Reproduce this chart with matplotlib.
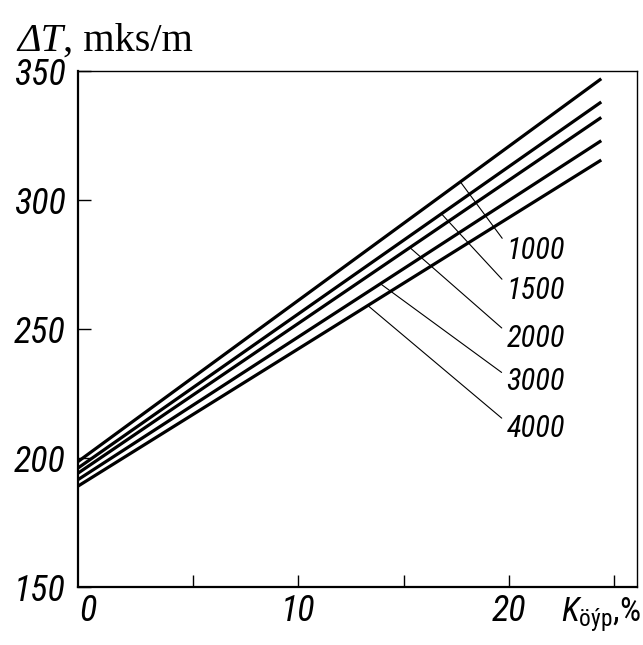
"""Travel time difference vs. clay content for several depths (scanned figure redraw)."""

import matplotlib
matplotlib.use("Agg")
import matplotlib.pyplot as plt
from matplotlib import font_manager

# data
x_ends = [-0.5, 24.4]
depths = ["1000", "1500", "2000", "3000", "4000"]
dt_start = [198.5, 196.0, 194.0, 191.5, 189.0]
dt_end = [347.0, 338.0, 332.0, 323.0, 315.5]

# where each leader touches its line (x) and where the label sits
leader_x = [17.7, 16.8, 15.3, 13.9, 13.3]
label_x = [19.9, 19.9, 19.9, 19.9, 19.9]
label_y = [280.6, 265.1, 246.5, 229.5, 211.6]

xticks = [0, 5, 10, 15, 20, 25]
xtick_labels = ["0", "", "10", "", "20", ""]
yticks = [150, 200, 250, 300, 350]


def pick_font(candidates):
    names = {f.name for f in font_manager.fontManager.ttflist}
    for c in candidates:
        if c in names:
            return c
    return "DejaVu Sans"


NARROW = pick_font(["Liberation Sans Narrow", "Roboto Condensed",
                    "DejaVu Sans Condensed", "Roboto"])
SERIF = ["Liberation Serif", "DejaVu Serif"]

plt.rcParams["mathtext.fontset"] = "custom"
plt.rcParams["mathtext.it"] = NARROW + ":italic"
plt.rcParams["mathtext.rm"] = NARROW


def main():
    fig = plt.figure(figsize=(6.43, 6.45), dpi=100)
    ax = fig.add_axes([0.1213, 0.0899, 0.8694, 0.80])

    for y0, y1 in zip(dt_start, dt_end):
        ax.plot(x_ends, [y0, y1], color="black", linewidth=2.3,
                solid_capstyle="butt")

    for name, y0, y1, lx, tx, ty in zip(depths, dt_start, dt_end,
                                        leader_x, label_x, label_y):
        # point on the line where the leader starts
        frac = (lx - x_ends[0]) / (x_ends[1] - x_ends[0])
        ly = y0 + frac * (y1 - y0)
        ax.annotate(
            name,
            xy=(lx, ly),
            xytext=(tx, ty),
            fontsize=22,
            family=[NARROW, "DejaVu Sans"],
            style="italic",
            va="center",
            ha="left",
            arrowprops=dict(arrowstyle="-", color="black", linewidth=0.8,
                            shrinkA=2, shrinkB=0, relpos=(0.0, 0.7)),
        )

    ax.set_xlim(-0.48, 26.1)
    ax.set_ylim(150, 350)
    ax.set_xticks(xticks)
    ax.set_xticklabels(xtick_labels)
    ax.set_yticks(yticks)
    ax.xaxis.get_major_ticks()[0].tick1line.set_visible(False)
    ax.tick_params(direction="in", length=9, width=1.0, pad=4,
                   labelsize=26)
    ax.tick_params(axis="y", pad=9)
    for lab in ax.get_xticklabels() + ax.get_yticklabels():
        lab.set_family([NARROW, "DejaVu Sans"])
        lab.set_style("italic")

    for side in ("left", "bottom"):
        ax.spines[side].set_linewidth(1.6)
    for side in ("top", "right"):
        ax.spines[side].set_linewidth(1.0)

    # y axis title: italic ΔT followed by upright unit
    t1 = fig.text(0.027, 0.921, "ΔT", fontsize=29, family=SERIF,
                  style="italic", va="baseline", ha="left")
    ax.annotate(", mks/m", xy=(1, 0), xycoords=t1, xytext=(0, 0),
                textcoords="offset points", fontsize=29, family=SERIF,
                va="bottom", ha="left")

    # x axis title near the right end
    fig.text(0.872, 0.036, "$K_{\\mathrm{öýp}}$,%", fontsize=24,
             family=[NARROW, "DejaVu Sans"], va="baseline", ha="left")

    fig.savefig("out.png", dpi=100)


if __name__ == "__main__":
    main()
